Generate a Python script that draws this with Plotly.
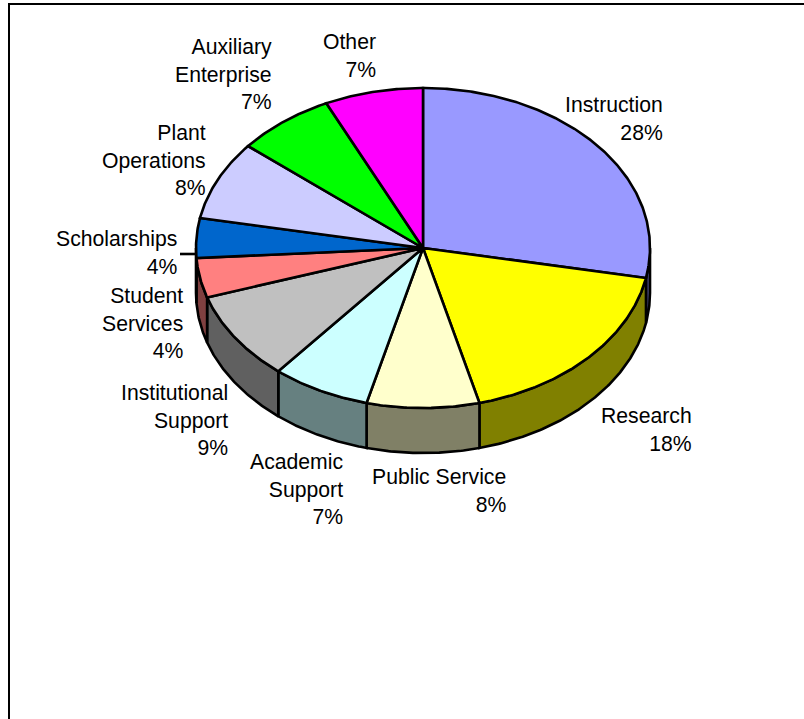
import numpy as np
import plotly.graph_objects as go

# Budget shares, clockwise from twelve o'clock
categories = ["Instruction", "Research", "Public Service", "Academic<br>Support",
              "Institutional<br>Support", "Student<br>Services", "Scholarships",
              "Plant<br>Operations", "Auxiliary<br>Enterprise", "Other"]
shares = [28, 18, 8, 7, 9, 4, 4, 8, 7, 7]
top_colors = ["#9999FF", "#FFFF00", "#FFFFCC", "#CCFFFF", "#C0C0C0",
              "#FF8080", "#0066CC", "#CCCCFF", "#00FF00", "#FF00FF"]
wall_colors = ["#4C4C80", "#808000", "#808066", "#668080", "#606060",
               "#804040", "#003366", "#666680", "#008000", "#800080"]
# Right edge and vertical middle of each label block
label_right = [663, 692, 506, 343, 228, 183, 177, 206, 272, 376]
label_middle = [118.5, 429, 490, 489, 420, 323, 252.5, 160, 74, 55]

# Tilted-disc geometry, in axis units (one unit is one screen pixel)
CX, CY, RX, RY, DEPTH = 423, 248, 227, 160, 45
LINE = dict(color="black", width=2.6)


def rim(theta_deg, drop=0.0):
    t = np.radians(theta_deg)
    return CX + RX * np.sin(t), CY - RY * np.cos(t) + drop


def arc_angles(a, b):
    return np.linspace(a, b, max(int(abs(b - a) * 2), 2))


edges = np.concatenate([[0], np.cumsum(shares)]) * 360 / sum(shares)
fig = go.Figure()

# Outer wall: only the near half of the disc shows
for i, color in enumerate(wall_colors):
    a, b = max(edges[i], 90), min(edges[i + 1], 270)
    if b <= a:
        continue
    th = arc_angles(a, b)
    x1, y1 = rim(th)
    x2, y2 = rim(th[::-1], DEPTH)
    fig.add_trace(go.Scatter(
        x=np.r_[x1, x2, x1[0]], y=np.r_[y1, y2, y1[0]], mode="lines",
        fill="toself", fillcolor=color, line=LINE, hoverinfo="skip",
    ))

# Top face wedges
for i, color in enumerate(top_colors):
    x1, y1 = rim(arc_angles(edges[i], edges[i + 1]))
    fig.add_trace(go.Scatter(
        x=np.r_[CX, x1, CX], y=np.r_[CY, y1, CY], mode="lines",
        fill="toself", fillcolor=color, line=LINE, hoverinfo="skip",
    ))

# Leader line for the Scholarships label
fig.add_trace(go.Scatter(x=[180, 195], y=[254, 254], mode="lines", line=LINE,
                         hoverinfo="skip"))

for name, pct, right, middle in zip(categories, shares, label_right, label_middle):
    fig.add_annotation(
        x=right, y=middle, text=f"{name}<br>{pct}%", showarrow=False,
        xanchor="right", yanchor="middle", align="right", xshift=2,
        font=dict(family="Liberation Sans, Arial, sans-serif", size=21.2, color="black"),
    )

# Chart frame; its right and bottom sides run past the visible area
fig.add_shape(type="rect", x0=9, y0=4, x1=840, y1=760,
              line=dict(color="black", width=2), layer="below")

fig.update_layout(
    width=804, height=719, margin=dict(l=0, r=0, t=0, b=0),
    paper_bgcolor="white", plot_bgcolor="white", showlegend=False,
    xaxis=dict(range=[0, 804], visible=False, fixedrange=True),
    yaxis=dict(range=[719, 0], visible=False, fixedrange=True),
)
fig.write_html("out.html", config={"displayModeBar": False})
